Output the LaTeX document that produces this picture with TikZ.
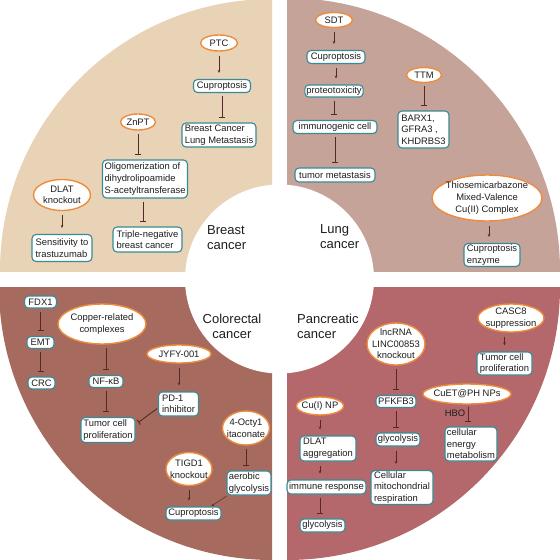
\documentclass[tikz,border=0pt]{standalone}
\usepackage{fontspec}
\setmainfont{Liberation Sans}
\usetikzlibrary{shapes.geometric,arrows.meta}
\definecolor{qbreast}{RGB}{233,211,183}
\definecolor{qlung}{RGB}{197,163,153}
\definecolor{qcolo}{RGB}{166,107,94}
\definecolor{qpanc}{RGB}{180,104,108}
\definecolor{boxc}{RGB}{58,138,150}
\definecolor{ellc}{RGB}{238,140,62}
\definecolor{arrc}{RGB}{85,42,38}
\definecolor{txtc}{RGB}{30,30,30}
\newcommand{\nodefont}{\fontsize{9.4}{11.6}\selectfont}
\newcommand{\labfont}{\fontsize{13}{15}\selectfont}
\tikzset{
  bx/.style={draw=boxc, fill=white, rounded corners=4pt, line width=1.1pt, inner xsep=1.5pt, inner ysep=1pt, font=\nodefont, text=txtc, align=left},
  el/.style={ellipse, draw=ellc, fill=white, line width=1.4pt, inner sep=-30pt, font=\nodefont, text=txtc, align=center},
  inh/.style={draw=arrc, line width=0.9pt, -{Bar[width=6pt,line width=0.9pt]}, shorten >=5pt, shorten <=3pt},
  act/.style={draw=arrc, line width=0.5pt, -{Stealth[length=3pt,width=2.6pt]}, shorten >=6pt, shorten <=4pt},
  lab/.style={font=\labfont, text=txtc, inner sep=0pt},
}
\begin{document}
\begin{tikzpicture}[x=1pt,y=-1pt]
\useasboundingbox (0,0) rectangle (560,560);
\fill[white] (0,0) rectangle (560,560);
% quadrants
\begin{scope}\clip (0,0) rectangle (272,271); \fill[qbreast] (272,271) circle[radius=272pt]; \end{scope}
\begin{scope}\clip (287,0) rectangle (560,271); \fill[qlung] (287,271) circle[radius=273pt]; \end{scope}
\begin{scope}\clip (0,287) rectangle (272,560); \fill[qcolo] (272,287) circle[radius=273pt]; \end{scope}
\begin{scope}\clip (287,287) rectangle (560,560); \fill[qpanc] (287,287) circle[radius=273pt]; \end{scope}
\fill[white] (279.5,279) circle[radius=94.5pt];
% centre labels
\node[lab, anchor=west, align=left] (lbreast) at (207,238) {Breast\\cancer};
\node[lab, anchor=west, align=left] (llung) at (320,237) {Lung\\cancer};
\node[lab, align=center] (lcolo) at (232,326) {Colorectal\\cancer};
\node[lab, anchor=west, align=left] (lpanc) at (297,326.5) {Pancreatic\\cancer};
% ---------------- Breast
\node[el, minimum width=37pt, minimum height=16pt] (ptc) at (219,43) {PTC};
\node[bx, minimum width=57pt, minimum height=13pt] (bcup) at (222,86) {Cuproptosis};
\node[bx, minimum width=74pt, minimum height=24pt] (bclm) at (219,135) {Breast Cancer\\Lung Metastasis};
\node[el, minimum width=35pt, minimum height=16pt] (znpt) at (138,122) {ZnPT};
\node[bx, minimum width=85pt, minimum height=38pt] (olig) at (145,179) {Oligomerization of\\dihydrolipoamide\\S-acetyltransferase};
\node[bx, minimum width=69pt, minimum height=25pt] (tnbc) at (147.5,239.5) {Triple-negative\\breast cancer};
\node[el, minimum width=57pt, minimum height=31pt] (dlat) at (62,195) {DLAT\\knockout};
\node[bx, minimum width=60pt, minimum height=27pt] (sens) at (62,248) {Sensitivity to\\trastuzumab};
\draw[act] (ptc.south) -- (ptc.south |- bcup.north);
\draw[inh] (bcup.south) -- (bcup.south |- bclm.north);
\draw[inh] (znpt.south) -- (znpt.south |- olig.north);
\draw[inh] ([xshift=-2pt]olig.south) -- ([xshift=-2pt]olig.south |- tnbc.north);
\draw[act] (dlat.south) -- (dlat.south |- sens.north);
% ---------------- Lung
\node[el, minimum width=37pt, minimum height=15pt] (sdt) at (334,20) {SDT};
\node[bx, minimum width=58pt, minimum height=13pt] (lcup) at (336,57) {Cuproptosis};
\node[bx, minimum width=58pt, minimum height=12pt] (prot) at (334,91) {proteotoxicity};
\node[bx, minimum width=84pt, minimum height=13pt] (immu) at (335,127) {immunogenic cell};
\node[bx, minimum width=80pt, minimum height=14pt] (tmet) at (335,175) {tumor metastasis};
\node[el, minimum width=35pt, minimum height=15pt] (ttm) at (424,75) {TTM};
\node[bx, minimum width=51pt, minimum height=37pt] (barx) at (423.5,129.5) {BARX1,\\GFRA3 ,\\KHDRBS3};
\node[el, minimum width=110pt, minimum height=46pt] (thio) at (487,198) {Thiosemicarbazone\\Mixed-Valence\\Cu(II) Complex};
\node[bx, minimum width=56pt, minimum height=23pt] (cenz) at (492,255) {Cuproptosis\\enzyme};
\draw[act] (sdt.south) -- (sdt.south |- lcup.north);
\draw[act] (lcup.south) -- (lcup.south |- prot.north);
\draw[inh] (prot.south) -- (prot.south |- immu.north);
\draw[inh] (immu.south) -- (immu.south |- tmet.north);
\draw[inh] (ttm.south) -- (ttm.south |- barx.north);
\draw[act] ([xshift=2pt]thio.south) -- ([xshift=2pt]thio.south |- cenz.north);
% ---------------- Colorectal
\node[bx, minimum width=32pt, minimum height=12pt] (fdx) at (40.5,302) {FDX1};
\node[bx, minimum width=27pt, minimum height=12pt] (emt) at (40.5,342.5) {EMT};
\node[bx, minimum width=27pt, minimum height=12pt] (crc) at (41.5,383) {CRC};
\node[el, minimum width=88pt, minimum height=40pt] (copper) at (102,324) {Copper-related\\complexes};
\node[bx, minimum width=34pt, minimum height=12pt] (nfkb) at (106,381.5) {NF-κB};
\node[bx, minimum width=54pt, minimum height=25pt] (tcp) at (108,430) {Tumor cell\\proliferation};
\node[el, minimum width=64pt, minimum height=18pt] (jyfy) at (179,354) {JYFY-001};
\node[bx, minimum width=40pt, minimum height=24pt] (pd1) at (178.5,404) {PD-1\\inhibitor};
\node[el, minimum width=47pt, minimum height=34pt] (octyl) at (246,428) {4-Octy1\\itaconate};
\node[bx, minimum width=44pt, minimum height=24pt] (aero) at (249,483) {aerobic\\glycolysis};
\node[el, minimum width=46pt, minimum height=33pt] (tigd) at (189,469) {TIGD1\\knockout};
\node[bx, minimum width=55pt, minimum height=13pt] (ccup) at (193.5,513.5) {Cuproptosis};
\draw[inh] (fdx.south) -- (fdx.south |- emt.north);
\draw[inh] (emt.south) -- (emt.south |- crc.north);
\draw[inh] (nfkb.north |- copper.south) -- (nfkb.north);
\draw[inh] (nfkb.south) -- (nfkb.south |- tcp.north);
\draw[act] (jyfy.south) -- (jyfy.south |- pd1.north);
\draw[inh, shorten >=1pt, shorten <=1pt] ([yshift=-4pt]pd1.west) -- ([yshift=-6pt,xshift=2pt]tcp.north east);
\draw[inh] (octyl.south) -- (octyl.south |- aero.north);
\draw[act] (tigd.south) -- (tigd.south |- ccup.north);
\draw[act, shorten >=1pt, shorten <=1pt] ([xshift=1pt]aero.south west) -- ([xshift=-11pt]ccup.north east);
% ---------------- Pancreatic
\node[el, minimum width=58pt, minimum height=42pt] (lnc) at (396,344) {lncRNA\\LINC00853\\knockout};
\node[bx, minimum width=40pt, minimum height=12pt] (pfk) at (396,401.5) {PFKFB3};
\node[bx, minimum width=44pt, minimum height=13pt] (glyc1) at (398,439.5) {glycolysis};
\node[bx, minimum width=62pt, minimum height=33pt] (cmr) at (402,487.5) {Cellular\\mitochondrial\\respiration};
\node[el, minimum width=47pt, minimum height=18pt] (cuinp) at (320,406) {Cu(I) NP};
\node[bx, minimum width=56pt, minimum height=25pt] (dlat2) at (328,448.5) {DLAT\\aggregation};
\node[bx, minimum width=79pt, minimum height=14pt] (immr) at (326.5,487) {immune response};
\node[bx, minimum width=45pt, minimum height=13pt] (glyc2) at (322.5,525.5) {glycolysis};
\node[el, minimum width=66pt, minimum height=28pt] (casc) at (511,318) {CASC8\\suppression};
\node[bx, minimum width=55pt, minimum height=23pt] (tcp2) at (504.5,363.5) {Tumor cell\\proliferation};
\node[el, minimum width=88pt, minimum height=20pt] (cuet) at (467,394) {CuET@PH NPs};
\node[bx, minimum width=52pt, minimum height=34pt] (cem) at (471,444) {cellular\\energy\\metabolism};
\node[font=\nodefont, text=txtc, inner sep=0pt] (hbo) at (455,413) {HBO};
\draw[inh] (lnc.south) -- (lnc.south |- pfk.north);
\draw[inh] (pfk.south) -- (pfk.south |- glyc1.north);
\draw[act] (pfk.south |- glyc1.south) -- (pfk.south |- cmr.north);
\draw[act] (cuinp.south) -- (cuinp.south |- dlat2.north);
\draw[act] (cuinp.south |- dlat2.south) -- (cuinp.south |- immr.north);
\draw[inh] (cuinp.south |- immr.south) -- (cuinp.south |- glyc2.north);
\draw[act] (tcp2.north |- casc.south) -- (tcp2.north);
\draw[inh, shorten <=2pt] ([xshift=1pt]cuet.south) -- ([xshift=1pt]cuet.south |- cem.north);
\end{tikzpicture}
\end{document}
